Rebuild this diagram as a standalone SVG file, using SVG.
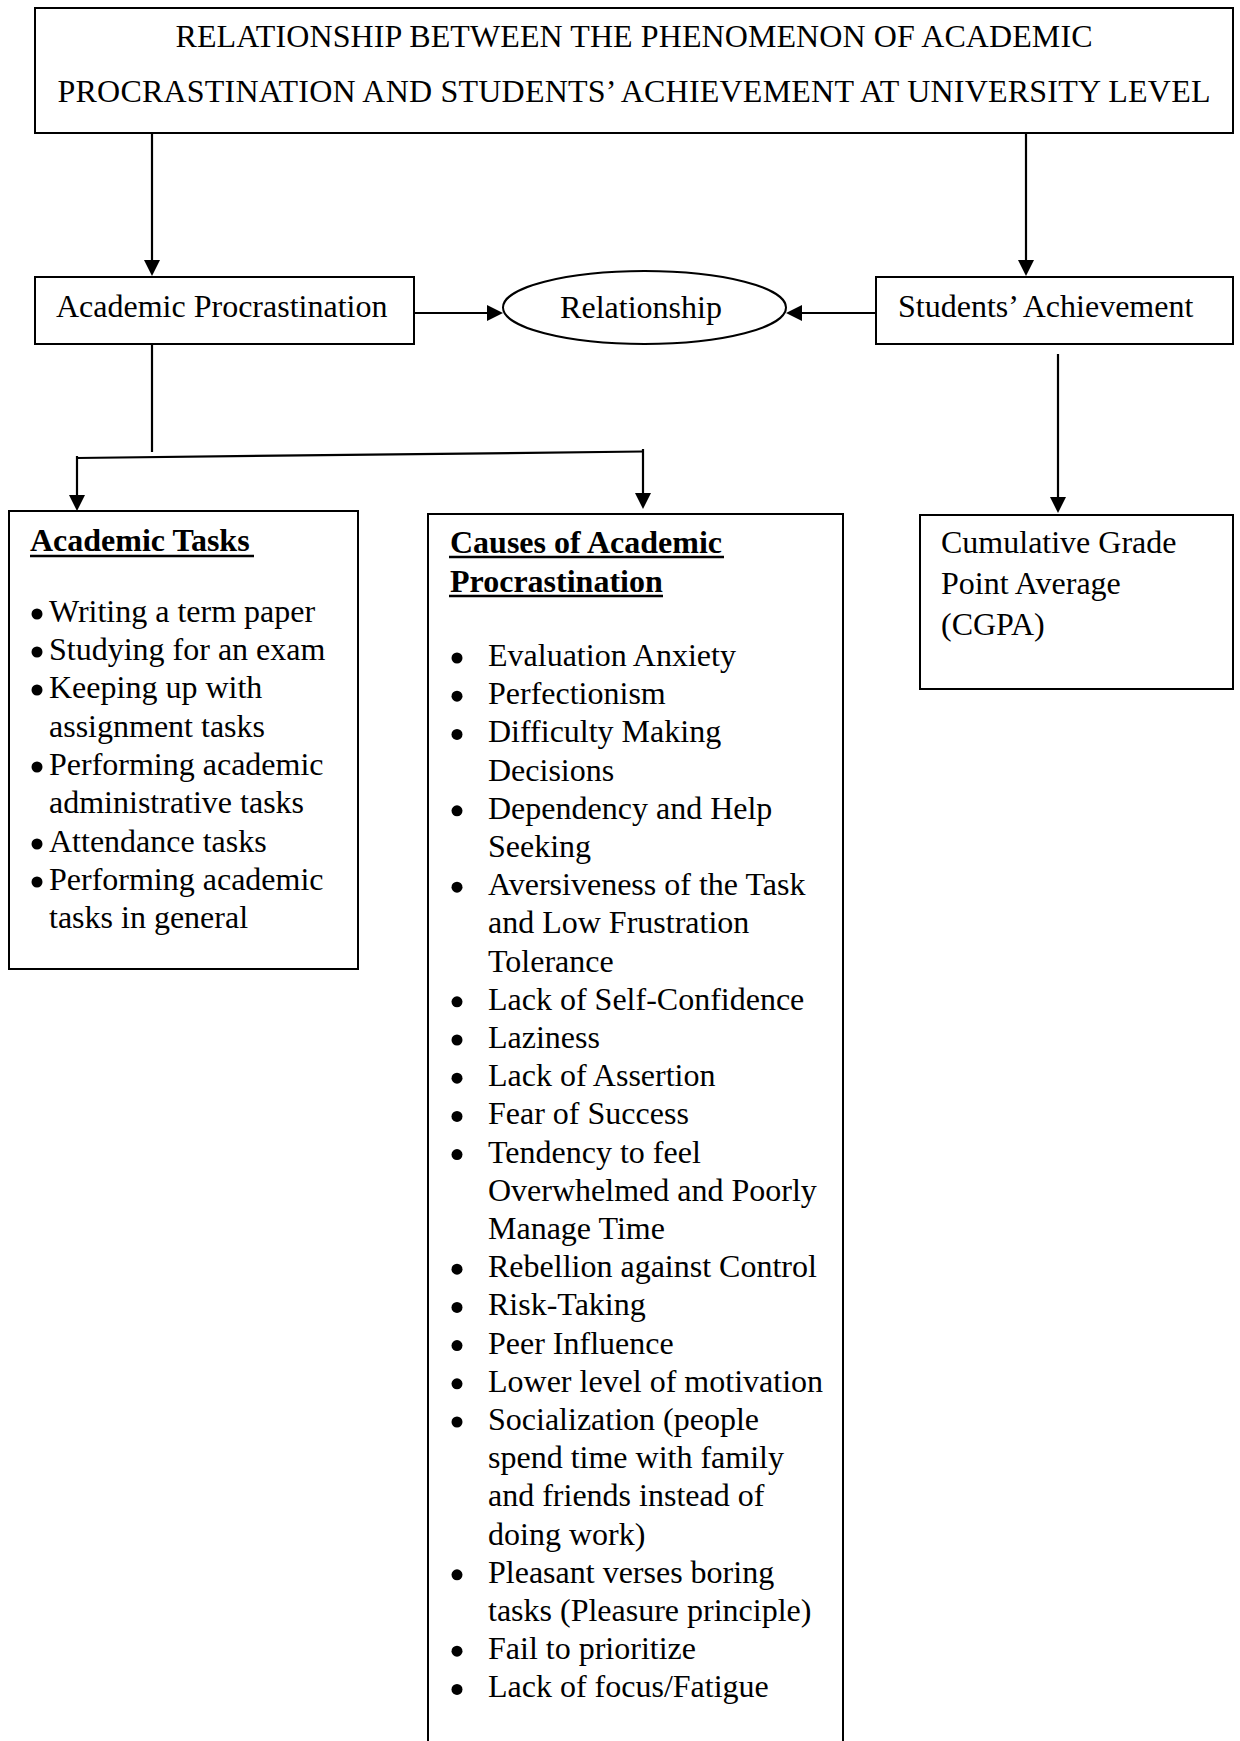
<svg xmlns="http://www.w3.org/2000/svg" width="1240" height="1741" viewBox="0 0 1240 1741">
  <style>
    text { font-family: "Liberation Serif", "Times New Roman", serif; font-size: 32px; fill: #000; }
    .head { font-weight: bold; }
    .mid { text-anchor: middle; }
    .box { fill: #fff; stroke: #000; stroke-width: 2; }
    .conn { fill: none; stroke: #000; stroke-width: 2.2; }
    .arrow { marker-end: url(#head); }
    .ul { stroke: #000; stroke-width: 2.5; }
    .dot { fill: #000; }
  </style>
  <defs>
    <marker id="head" markerUnits="userSpaceOnUse" markerWidth="16" markerHeight="16" refX="6" refY="8" orient="auto">
      <path d="M0,0 L16,8 L0,16 Z" fill="#000"/>
    </marker>
    <circle id="bullet" r="5.5" class="dot"/>
  </defs>

  <rect width="1240" height="1741" fill="#fff"/>

  <!-- connectors -->
  <g id="connectors">
    <path class="conn arrow" d="M152,133 V266"/>
    <path class="conn arrow" d="M1026,133 V266"/>
    <path class="conn arrow" d="M414,313 H493"/>
    <path class="conn arrow" d="M876,313 H796"/>
    <path class="conn" d="M152,344 V452"/>
    <path class="conn" d="M77,458 L643,451.5"/>
    <path class="conn arrow" d="M77,456 V501"/>
    <path class="conn arrow" d="M643,449 V499"/>
    <path class="conn arrow" d="M1058,354 V503"/>
  </g>

  <!-- title -->
  <g id="title">
    <rect class="box" x="35" y="8" width="1198" height="125"/>
    <text class="mid" x="634" y="47" textLength="917" lengthAdjust="spacing">RELATIONSHIP BETWEEN THE PHENOMENON OF ACADEMIC</text>
    <text class="mid" x="634" y="102" textLength="1153" lengthAdjust="spacing">PROCRASTINATION AND STUDENTS’ ACHIEVEMENT AT UNIVERSITY LEVEL</text>
  </g>

  <g id="academic-procrastination">
    <rect class="box" x="35" y="277" width="379" height="67"/>
    <text x="56" y="317">Academic Procrastination</text>
  </g>

  <g id="relationship">
    <ellipse class="box" cx="644.5" cy="307.5" rx="141.5" ry="36.5"/>
    <text class="mid" x="641" y="318">Relationship</text>
  </g>

  <g id="students-achievement">
    <rect class="box" x="876" y="277" width="357" height="67"/>
    <text x="898" y="317">Students’ Achievement</text>
  </g>

  <!-- academic tasks list -->
  <g id="academic-tasks">
    <rect class="box" x="9" y="511" width="349" height="458"/>
    <text class="head" x="30" y="551">Academic Tasks</text>
    <line class="ul" x1="30" y1="556" x2="254" y2="556"/>
    <use href="#bullet" x="37" y="614"/>
    <text x="49" y="622">Writing a term paper</text>
    <use href="#bullet" x="37" y="652"/>
    <text x="49" y="660">Studying for an exam</text>
    <use href="#bullet" x="37" y="690"/>
    <text x="49" y="698">Keeping up with</text>
    <text x="49" y="737">assignment tasks</text>
    <use href="#bullet" x="37" y="767"/>
    <text x="49" y="775">Performing academic</text>
    <text x="49" y="813">administrative tasks</text>
    <use href="#bullet" x="37" y="844"/>
    <text x="49" y="852">Attendance tasks</text>
    <use href="#bullet" x="37" y="882"/>
    <text x="49" y="890">Performing academic</text>
    <text x="49" y="928">tasks in general</text>
  </g>

  <!-- causes list -->
  <g id="causes">
    <path class="box" d="M428,1745 V514 H843 V1745"/>
    <text class="head" x="450" y="553">Causes of Academic</text>
    <line class="ul" x1="449" y1="557" x2="724" y2="557"/>
    <text class="head" x="450" y="591.5">Procrastination</text>
    <line class="ul" x1="449" y1="596" x2="663" y2="596"/>

    <use href="#bullet" x="457" y="658"/>
    <text x="488" y="666">Evaluation Anxiety</text>
    <use href="#bullet" x="457" y="696.2"/>
    <text x="488" y="704.2">Perfectionism</text>
    <use href="#bullet" x="457" y="734.4"/>
    <text x="488" y="742.4">Difficulty Making</text>
    <text x="488" y="780.6">Decisions</text>
    <use href="#bullet" x="457" y="810.8"/>
    <text x="488" y="818.8">Dependency and Help</text>
    <text x="488" y="857">Seeking</text>
    <use href="#bullet" x="457" y="887.2"/>
    <text x="488" y="895.2">Aversiveness of the Task</text>
    <text x="488" y="933.4">and Low Frustration</text>
    <text x="488" y="971.6">Tolerance</text>
    <use href="#bullet" x="457" y="1001.8"/>
    <text x="488" y="1009.8">Lack of Self-Confidence</text>
    <use href="#bullet" x="457" y="1040"/>
    <text x="488" y="1048">Laziness</text>
    <use href="#bullet" x="457" y="1078.2"/>
    <text x="488" y="1086.2">Lack of Assertion</text>
    <use href="#bullet" x="457" y="1116.4"/>
    <text x="488" y="1124.4">Fear of Success</text>
    <use href="#bullet" x="457" y="1154.6"/>
    <text x="488" y="1162.6">Tendency to feel</text>
    <text x="488" y="1200.8">Overwhelmed and Poorly</text>
    <text x="488" y="1239">Manage Time</text>
    <use href="#bullet" x="457" y="1269.2"/>
    <text x="488" y="1277.2">Rebellion against Control</text>
    <use href="#bullet" x="457" y="1307.4"/>
    <text x="488" y="1315.4">Risk-Taking</text>
    <use href="#bullet" x="457" y="1345.6"/>
    <text x="488" y="1353.6">Peer Influence</text>
    <use href="#bullet" x="457" y="1383.8"/>
    <text x="488" y="1391.8">Lower level of motivation</text>
    <use href="#bullet" x="457" y="1422"/>
    <text x="488" y="1430">Socialization (people</text>
    <text x="488" y="1468.2">spend time with family</text>
    <text x="488" y="1506.4">and friends instead of</text>
    <text x="488" y="1544.6">doing work)</text>
    <use href="#bullet" x="457" y="1574.8"/>
    <text x="488" y="1582.8">Pleasant verses boring</text>
    <text x="488" y="1621">tasks (Pleasure principle)</text>
    <use href="#bullet" x="457" y="1651.2"/>
    <text x="488" y="1659.2">Fail to prioritize</text>
    <use href="#bullet" x="457" y="1689.4"/>
    <text x="488" y="1697.4">Lack of focus/Fatigue</text>
  </g>

  <g id="cgpa">
    <rect class="box" x="920" y="515" width="313" height="174"/>
    <text x="941" y="553">Cumulative Grade</text>
    <text x="941" y="594">Point Average</text>
    <text x="941" y="635">(CGPA)</text>
  </g>
</svg>
